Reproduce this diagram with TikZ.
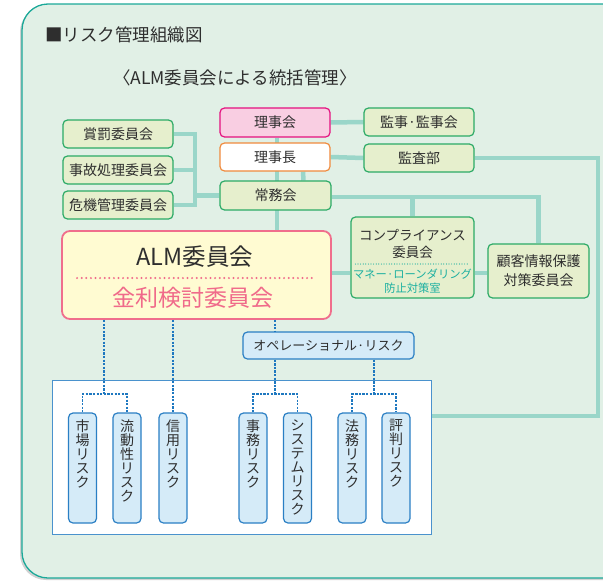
\documentclass[tikz,border=0pt]{standalone}
\usepackage{fontspec}
\setmainfont{Noto Sans CJK JP}
\usetikzlibrary{shadows,calc}
\definecolor{bgfill}{HTML}{E1F0E6}
\definecolor{bgborder}{HTML}{1BA999}
\definecolor{tealline}{HTML}{9AD6C9}
\definecolor{gfill}{HTML}{E6EFCD}
\definecolor{gborder}{HTML}{2BAA66}
\definecolor{pfill}{HTML}{F9CEE2}
\definecolor{pborder}{HTML}{E4117F}
\definecolor{oborder}{HTML}{F08A3C}
\definecolor{almfill}{HTML}{FFFBD2}
\definecolor{almborder}{HTML}{F06E8C}
\definecolor{almtext}{HTML}{F06A8A}
\definecolor{comptext}{HTML}{1AAFA0}
\definecolor{bfill}{HTML}{D5EBF8}
\definecolor{bborder}{HTML}{2A7FC4}
\definecolor{bline}{HTML}{1E78C0}
\definecolor{txt}{HTML}{2E2E2E}
\pgfdeclarelayer{back}
\pgfdeclarelayer{conn}
\pgfsetlayers{back,conn,main}
\begin{document}
\begin{tikzpicture}[x=1pt,y=-1pt,
  box/.style={draw, rounded corners=4.5pt, line width=1.2pt, inner sep=0pt, font=\fontsize{14}{16}\selectfont, text=txt},
  gbox/.style={box, draw=gborder, fill=gfill},
  tline/.style={draw=tealline, line width=4.5pt},
  bdot/.style={draw=bline, line width=1.8pt, dash pattern=on 2.3pt off 1.3pt},
  rbox/.style={draw=bborder, fill=bfill, rounded corners=4.5pt, line width=1.2pt, minimum width=28pt, minimum height=110pt, inner sep=0pt},
  vtext/.style={anchor=north, align=center, font=\fontsize{14}{14}\selectfont, text=txt, inner sep=0pt},
  lbl/.style={inner sep=0pt, text=txt}
]
\path[use as bounding box] (0,0) rectangle (603,581);
\begin{pgfonlayer}{back}
  \path[fill=bgfill, draw=bgborder, line width=1.3pt, rounded corners=26pt,
        drop shadow={shadow xshift=-2pt, shadow yshift=-2pt, opacity=0.3, fill=black!60}]
        (22,4) rectangle (650,578);
\end{pgfonlayer}

% titles
\node[lbl, anchor=west, font=\fontsize{17.5}{20}\selectfont] (title) at (45,35) {■リスク管理組織図};
\node[lbl, font=\fontsize{17.5}{20}\selectfont] (subtitle) at (235,78) {〈ALM委員会による統括管理〉};

% top nodes
\node[box, draw=pborder, fill=pfill, minimum width=110pt, minimum height=29pt] (rijikai) at (275,122.5) {理事会};
\node[box, draw=oborder, fill=white, minimum width=110pt, minimum height=28pt] (richo) at (275,157) {理事長};
\node[gbox, minimum width=111pt, minimum height=29pt] (jomu) at (275.5,195.5) {常務会};
\node[gbox, minimum width=110pt, minimum height=28pt] (kanji) at (419,122) {監事·監事会};
\node[gbox, minimum width=110pt, minimum height=28pt] (kansa) at (419,158) {監査部};

% left committees
\node[gbox, minimum width=110pt, minimum height=28pt] (shobatsu) at (118,134) {賞罰委員会};
\node[gbox, minimum width=110pt, minimum height=28pt] (jiko) at (118,170) {事故処理委員会};
\node[gbox, minimum width=110pt, minimum height=28pt] (kiki) at (118,205) {危機管理委員会};

% ALM
\node[box, draw=almborder, fill=almfill, line width=1.8pt, rounded corners=8pt, minimum width=269pt, minimum height=88pt] (alm) at (196.5,275) {};
\node[lbl, font=\fontsize{23.5}{25}\selectfont] (almt) at (195,257) {ALM委員会};
\node[lbl, text=almtext, font=\fontsize{23}{25}\selectfont] (kinri) at (193,298) {金利検討委員会};
\draw[almtext, line width=2.2pt, line cap=round, dash pattern=on 0pt off 4.6pt] ($(alm.west)+(16,3)$) -- ($(alm.east)+(-18,3)$);

% compliance
\node[gbox, minimum width=123pt, minimum height=81pt] (comp) at (412.5,257.5) {};
\node[lbl, align=center, font=\fontsize{13.5}{17}\selectfont] (compt) at (412.5,243.5) {コンプライアンス\\委員会};
\draw[comptext, line width=1.2pt, line cap=round, dash pattern=on 0pt off 2.6pt] ($(comp.west)+(5,6.5)$) -- ($(comp.east)+(-6,6.5)$);
\node[lbl, align=center, text=comptext, font=\fontsize{11.3}{14}\selectfont] (ml) at (412.5,281) {マネー·ローンダリング\\防止対策室};

% customer info
\node[gbox, align=center, font=\fontsize{14}{19}\selectfont, minimum width=101pt, minimum height=54pt] (kokyaku) at (538.5,271) {顧客情報保護\\対策委員会};

% operational risk
\node[box, draw=bborder, fill=bfill, font=\fontsize{13}{15}\selectfont, minimum width=171pt, minimum height=27pt] (ope) at (328.5,345.5) {オペレーショナル·リスク};

% risk container
\node[draw=bborder!85, fill=white, line width=1pt, minimum width=379pt, minimum height=154pt, inner sep=0pt] (riskbox) at (241.5,457) {};

% risk boxes
\foreach \n/\x/\t in {shijo/82.5/市\\場\\リ\\ス\\ク, ryudo/127/流\\動\\性\\リ\\ス\\ク, shinyo/173/信\\用\\リ\\ス\\ク, jimu/253/事\\務\\リ\\ス\\ク, system/297.5/シ\\ス\\テ\\ム\\リ\\ス\\ク, homu/352/法\\務\\リ\\ス\\ク, hyoban/396/評\\判\\リ\\ス\\ク}{
  \node[rbox] (\n) at (\x,468) {};
  \node[vtext] (\n t) at ([yshift=-7pt]\n.north) {\t};
}

% teal connectors
\coordinate (lv) at (195,0);
\coordinate (rc) at (598,416);
\coordinate (hy) at (0,273);
\coordinate (cv) at (277,0);
\begin{pgfonlayer}{conn}
  \draw[tline] (rijikai.east) -- (kanji.west);
  \draw[tline] (richo.east) -- (kansa.west);
  \draw[tline] (kansa.east) -- (kansa.east -| rc) -- (rc) -- (riskbox.east |- rc);
  \draw[tline] (rijikai.south -| cv) -- (alm.north -| cv);
  \draw[tline] ([xshift=28pt]richo.south) -- ([xshift=28pt]jomu.north);
  \draw[tline] (shobatsu.east) -- (shobatsu.east -| lv) -- (kiki.east -| lv) -- (kiki.east);
  \draw[tline] (jiko.east) -- (jiko.east -| lv);
  \draw[tline] (lv |- jomu.west) -- (jomu.west);
  \draw[tline] ([yshift=-1.5pt]jomu.east) -| (kokyaku.north);
  \draw[tline] ([yshift=-1.5pt]jomu.east -| comp.north) -- (comp.north);
  \draw[tline] (alm.east |- hy) -- (comp.west |- hy);
  \draw[tline] (comp.east |- hy) -- (kokyaku.west |- hy);
\end{pgfonlayer}

% blue dotted connectors
\coordinate (by) at (0,394);
\coordinate (a1) at (104,394);
\coordinate (o1) at (275,394);
\coordinate (o2) at (374,394);
\draw[bdot] (alm.south -| a1) -- (a1);
\draw[bdot] (shijo.north) -- (shijo.north |- by) -- (ryudo.north |- by) -- (ryudo.north);
\draw[bdot] (alm.south -| shinyo.north) -- (shinyo.north);
\draw[bdot] (alm.south -| o1) -- (ope.north -| o1);
\draw[bdot] (ope.south -| o1) -- (o1);
\draw[bdot] (jimu.north) -- (jimu.north |- by) -- (system.north |- by) -- (system.north);
\draw[bdot] (ope.south -| o2) -- (o2);
\draw[bdot] (homu.north) -- (homu.north |- by) -- (hyoban.north |- by) -- (hyoban.north);
\end{tikzpicture}
\end{document}
